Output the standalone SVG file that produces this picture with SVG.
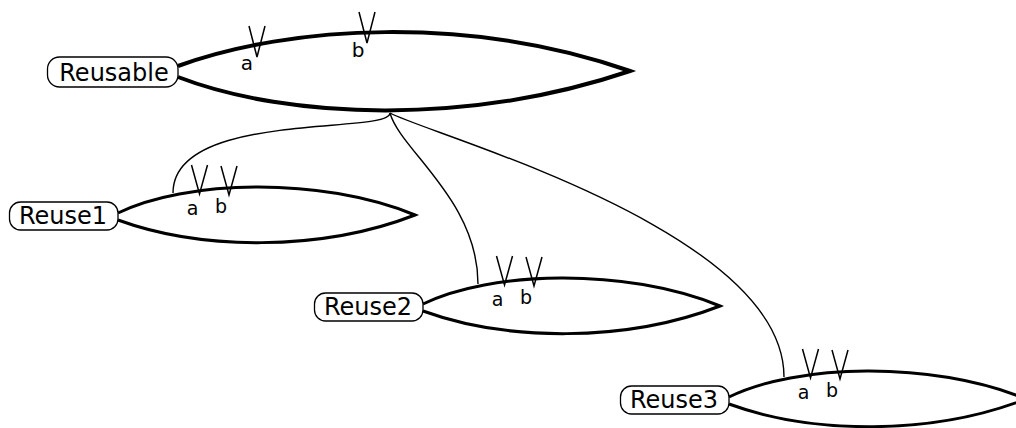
<svg xmlns="http://www.w3.org/2000/svg" width="1016" height="428" viewBox="0 0 1016 428">
<style>
.box{fill:#fff;stroke:#000;stroke-width:1.3}
.lbl{font-family:"DejaVu Sans",sans-serif;font-size:24px;fill:#000;text-anchor:middle}
.sm{font-family:"DejaVu Sans",sans-serif;font-size:19px;fill:#000;text-anchor:middle}
.big{font-size:20px}
.lens{fill:none;stroke:#000;stroke-width:3;stroke-linejoin:miter}
.lensbig{stroke-width:4}
.tick{fill:none;stroke:#000;stroke-width:1.5}
.conn{fill:none;stroke:#000;stroke-width:1.4}
</style>
<rect width="1016" height="428" fill="#fff"/>
<g id="connectors">
<path class="conn" d="M390,113 C390,135 173,110 173,193"/>
<path class="conn" d="M390,113 C400,150 478,200 478,284"/>
<path class="conn" d="M390,113 C430,135 784,230 784,377"/>
</g>
<g id="Reusable">
<path class="lens lensbig" d="M178,66 C290,25 470,15 630,71 C470,125 290,120 178,77"/>
<rect class="box" x="47.5" y="57" width="130.5" height="30" rx="12"/>
<text class="lbl" x="114" y="80.5">Reusable</text>
<path class="tick" d="M249,26 L257,57 L265,26"/>
<path class="tick" d="M359,12 L367,43 L375,12"/>
<text class="sm big" x="247" y="70">a</text>
<text class="sm big" x="358" y="57">b</text>
</g>
<g id="Reuse1">
<path class="lens" d="M118,213 C185,180 320,176 415,215 C320,252 200,250 118,220"/>
<rect class="box" x="9.5" y="202" width="108.5" height="28" rx="11"/>
<text class="lbl" x="63" y="224">Reuse1</text>
<path class="tick" d="M191.5,165 L199.5,194 L207.5,165"/>
<path class="tick" d="M221,166 L229,195 L237,166"/>
<text class="sm" x="192.5" y="215">a</text>
<text class="sm" x="221" y="213">b</text>
</g>
<g id="Reuse2" transform="translate(305,91)">
<path class="lens" d="M118,213 C185,180 320,176 415,215 C320,252 200,250 118,220"/>
<rect class="box" x="9.5" y="202" width="108.5" height="28" rx="11"/>
<text class="lbl" x="63" y="224">Reuse2</text>
<path class="tick" d="M191.5,165 L199.5,194 L207.5,165"/>
<path class="tick" d="M221,166 L229,195 L237,166"/>
<text class="sm" x="192.5" y="215">a</text>
<text class="sm" x="221" y="213">b</text>
</g>
<g id="Reuse3" transform="translate(611,184)">
<path class="lens" d="M118,213 C185,180 320,176 415,215 C320,252 200,250 118,220"/>
<rect class="box" x="9.5" y="202" width="108.5" height="28" rx="11"/>
<text class="lbl" x="63" y="224">Reuse3</text>
<path class="tick" d="M191.5,165 L199.5,194 L207.5,165"/>
<path class="tick" d="M221,166 L229,195 L237,166"/>
<text class="sm" x="192.5" y="215">a</text>
<text class="sm" x="221" y="213">b</text>
</g>
</svg>
